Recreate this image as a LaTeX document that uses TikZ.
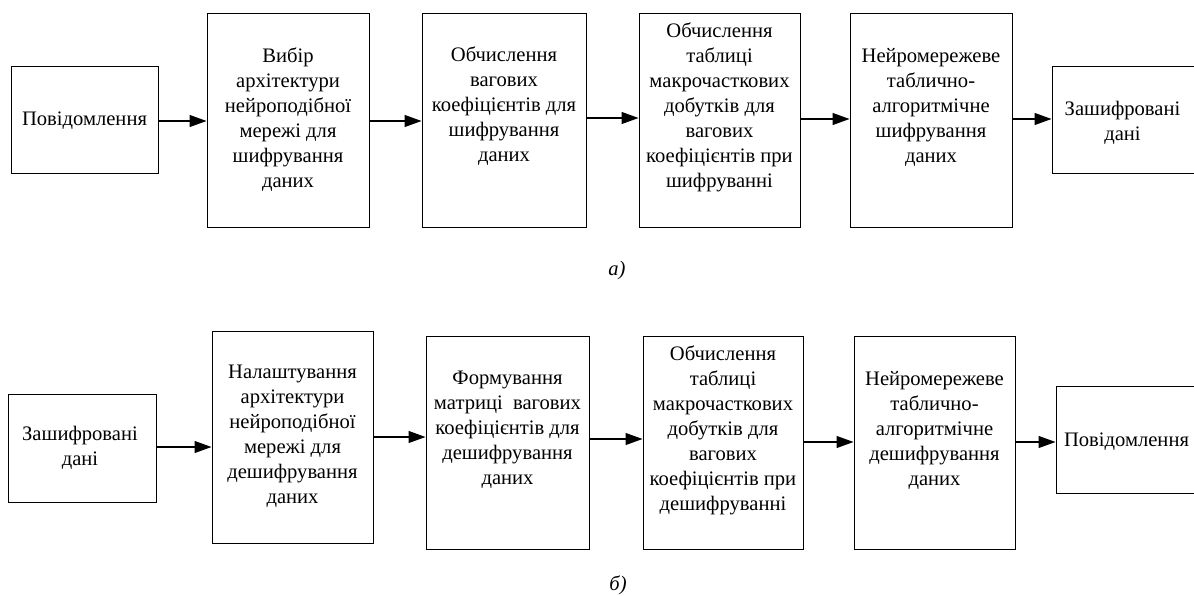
\documentclass[tikz,border=0pt]{standalone}
\usepackage{fontspec}
\setmainfont{Liberation Serif}
\usetikzlibrary{arrows.meta}
\tikzset{
  box/.style={draw=black, line width=1pt, inner sep=0pt, rectangle},
  txt/.style={align=center, inner sep=0pt, font=\fontsize{20.6}{25}\selectfont},
  arr/.style={line width=1.2pt, -{Triangle[length=17pt,width=12pt]}},
  caplabel/.style={anchor=base, inner sep=0pt, font=\itshape\fontsize{20.6}{24}\selectfont}
}
\begin{document}
\begin{tikzpicture}[x=1pt,y=-1pt]
\useasboundingbox (0,0) rectangle (1194,595);
\clip (0,0) rectangle (1194,595);
% top row boxes
\node[box, minimum width=147pt, minimum height=107pt] (b1) at (84.5,119.5) {};
\node[box, minimum width=162pt, minimum height=214pt] (b2) at (288,120) {};
\node[box, minimum width=164pt, minimum height=214pt] (b3) at (504,120) {};
\node[box, minimum width=161pt, minimum height=214pt] (b4) at (719.5,120) {};
\node[box, minimum width=162pt, minimum height=214pt] (b5) at (931,120) {};
\node[box, minimum width=144pt, minimum height=107pt] (b6) at (1124,119.5) {};
% top row texts
\node[txt] (t1) at (84.5,121) {Повідомлення};
\node[txt] (t2) at (288,120) {Вибір\\архітектури\\нейроподібної\\мережі для\\шифрування\\даних};
\node[txt] (t3) at (504,106) {Обчислення\\вагових\\коефіцієнтів для\\шифрування\\даних};
\node[txt] (t4) at (719.5,107) {Обчислення\\таблиці\\макрочасткових\\добутків для\\вагових\\коефіцієнтів при\\шифруванні};
\node[txt] (t5) at (931,107.5) {Нейромережеве\\таблично-\\алгоритмічне\\шифрування\\даних};
\node[txt] (t6) at (1122.5,122.5) {Зашифровані\\дані};
% top arrows
\draw[arr] (b1.east |- 0,121) -- (b2.west |- 0,121);
\draw[arr] (b2.east |- 0,121) -- (b3.west |- 0,121);
\draw[arr] (b3.east |- 0,118) -- (b4.west |- 0,118);
\draw[arr] (b4.east |- 0,119) -- (b5.west |- 0,119);
\draw[arr] (b5.east |- 0,119) -- (b6.west |- 0,119);
\node[caplabel] (capa) at (617,275) {а)};
% bottom row boxes
\node[box, minimum width=148pt, minimum height=108pt] (c1) at (82,448) {};
\node[box, minimum width=161pt, minimum height=212pt] (c2) at (292.5,437) {};
\node[box, minimum width=163pt, minimum height=213pt] (c3) at (507.5,442.5) {};
\node[box, minimum width=160pt, minimum height=213pt] (c4) at (723,442.5) {};
\node[box, minimum width=161pt, minimum height=213pt] (c5) at (934.5,442.5) {};
\node[box, minimum width=142pt, minimum height=107pt] (c6) at (1127,439.5) {};
% bottom row texts
\node[txt] (u1) at (80,447.5) {Зашифровані\\дані};
\node[txt] (u2) at (292.5,436.5) {Налаштування\\архітектури\\нейроподібної\\мережі для\\дешифрування\\даних};
\node[txt] (u3) at (507.5,429.5) {Формування\\матриці\ \ вагових\\коефіцієнтів для\\дешифрування\\даних};
\node[txt] (u4) at (723,430) {Обчислення\\таблиці\\макрочасткових\\добутків для\\вагових\\коефіцієнтів при\\дешифруванні};
\node[txt] (u5) at (934.5,430) {Нейромережеве\\таблично-\\алгоритмічне\\дешифрування\\даних};
\node[txt] (u6) at (1126.5,442) {Повідомлення};
% bottom arrows
\draw[arr] (c1.east |- 0,447) -- (c2.west |- 0,447);
\draw[arr] (c2.east |- 0,437) -- (c3.west |- 0,437);
\draw[arr] (c3.east |- 0,439) -- (c4.west |- 0,439);
\draw[arr] (c4.east |- 0,442) -- (c5.west |- 0,442);
\draw[arr] (c5.east |- 0,442) -- (c6.west |- 0,442);
\node[caplabel] (capb) at (618,590) {б)};
\end{tikzpicture}
\end{document}
